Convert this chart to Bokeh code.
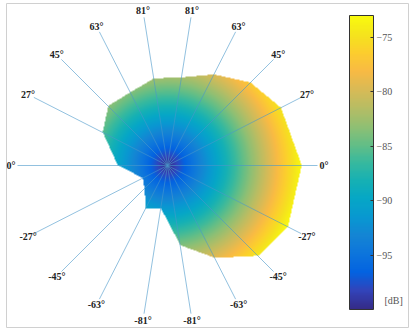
import numpy as np
from bokeh.plotting import figure
from bokeh.models import LinearColorMapper, ColorBar, FixedTicker, Label, ColumnDataSource
from bokeh.embed import file_html
from bokeh.resources import INLINE
from bokeh.core.properties import value

# ---- data ----
pattern_angle = [0, 27, 45, 63, 81, 99, 117, 135, 153, 180, 207, 225, 243, 261, 279, 297, 315, 333]
pattern_db = [-73.2, -74.6, -76.6, -79.6, -82.2, -82.4, -83.6, -83.2, -85.4, -90.0,
              -94.4, -93.4, -90.4, -91.3, -83.8, -79.2, -74.4, -73.0]
spoke_angle = [0, 27, 45, 63, 81, 99, 117, 135, 153, 180, 207, 225, 243, 261, 279, 297, 315, 333]
spoke_label = ["0°", "27°", "45°", "63°", "81°", "81°", "63°", "45°", "27°", "0°",
               "-27°", "-45°", "-63°", "-81°", "-81°", "-63°", "-45°", "-27°"]
db_min, db_max = -100, -73
spoke_db = -70
label_db = -68.7
cbar_ticks = [-95, -90, -85, -80, -75]

# parula anchors
parula = [(0.2081, 0.1663, 0.5292), (0.1959, 0.2645, 0.7279), (0.0117, 0.3875, 0.8820),
          (0.0498, 0.4586, 0.8641), (0.0793, 0.5200, 0.8312), (0.0343, 0.5966, 0.8199),
          (0.0228, 0.6535, 0.7768), (0.0843, 0.6928, 0.7062), (0.2178, 0.7250, 0.6193),
          (0.3953, 0.7459, 0.5244), (0.5709, 0.7485, 0.4494), (0.7184, 0.7411, 0.3905),
          (0.8507, 0.7299, 0.3360), (0.9739, 0.7314, 0.2666), (0.9880, 0.8066, 0.1794),
          (0.9588, 0.8949, 0.1132), (0.9763, 0.9831, 0.0538)]
anc = np.array(parula)
pos = np.linspace(0, 1, len(anc))
tt = np.linspace(0, 1, 256)
palette = []
for t in tt:
    c = [np.interp(t, pos, anc[:, k]) for k in range(3)]
    palette.append("#%02x%02x%02x" % tuple(int(round(v * 255)) for v in c))

# ---- figure ----
W, H = 412, 328
ml, mr, mt, mb = 6, 4, 3, 1
pxu = 5.0
cx_px, cy_px = 167, 165
fw, fh = W - ml - mr, H - mt - mb
x0 = -(cx_px - ml) / pxu
x1 = x0 + fw / pxu
y1 = (cy_px - mt) / pxu
y0 = y1 - fh / pxu

p = figure(width=W, height=H, x_range=(x0, x1), y_range=(y0, y1),
           output_backend="svg", toolbar_location=None,
           x_axis_location=None, y_axis_location=None,
           min_border_left=ml, min_border_right=mr, min_border_top=mt, min_border_bottom=mb)
p.grid.visible = False
p.outline_line_color = "#d0d0d0"
p.background_fill_color = "white"

mapper = LinearColorMapper(palette=palette, low=db_min, high=db_max, nan_color="rgba(0,0,0,0)")

# filled pattern image
th = np.radians(np.array(pattern_angle + [360], dtype=float))
rr = np.array(pattern_db + [pattern_db[0]], dtype=float) - db_min
nx, ny = fw * 2, fh * 2
xs = x0 + (np.arange(nx) + 0.5) * (x1 - x0) / nx
ys = y0 + (np.arange(ny) + 0.5) * (y1 - y0) / ny
X, Y = np.meshgrid(xs, ys)
R = np.hypot(X, Y)
T = np.mod(np.arctan2(Y, X), 2 * np.pi)
idx = np.clip(np.searchsorted(th, T, side="right") - 1, 0, len(th) - 2)
t1, t2 = th[idx], th[idx + 1]
r1, r2 = rr[idx], rr[idx + 1]
Redge = r1 * r2 * np.sin(t2 - t1) / (r1 * np.sin(T - t1) + r2 * np.sin(t2 - T))
val = db_min + R
val[R > Redge] = np.nan
p.image(image=[val], x=x0, y=y0, dw=x1 - x0, dh=y1 - y0, color_mapper=mapper)

# spokes
sa = np.radians(spoke_angle)
rs = spoke_db - db_min
src = ColumnDataSource(dict(x1=rs * np.cos(sa), y1=rs * np.sin(sa),
                            lx=(label_db - db_min) * np.cos(sa), ly=(label_db - db_min) * np.sin(sa),
                            lab=spoke_label))
p.segment(x0=0, y0=0, x1="x1", y1="y1", source=src, line_color="#4a97c9", line_alpha=0.6, line_width=1)
p.text(x="lx", y="ly", text="lab", source=src, text_align="center", text_baseline="middle",
       text_font=value("Liberation Serif"), text_font_style="bold", text_font_size="10px",
       text_color="#222222")

cb = ColorBar(color_mapper=mapper, ticker=FixedTicker(ticks=cbar_ticks), width=24, height=294,
              location=(343, 18), padding=0, margin=0, major_tick_in=3, major_tick_out=0,
              major_tick_line_color="#333333", label_standoff=3,
              major_label_text_font="Liberation Serif", major_label_text_font_size="10px",
              major_label_text_color="#555555", bar_line_color="#333333",
              background_fill_alpha=0, border_line_color=None)
p.add_layout(cb)
p.add_layout(Label(x=378, y=27, x_units="screen", y_units="screen", text="[dB]",
                   text_font="Liberation Serif", text_font_size="10px", text_color="#555555",
                   text_baseline="middle"))

open("out.html", "w").write(file_html(p, INLINE))
